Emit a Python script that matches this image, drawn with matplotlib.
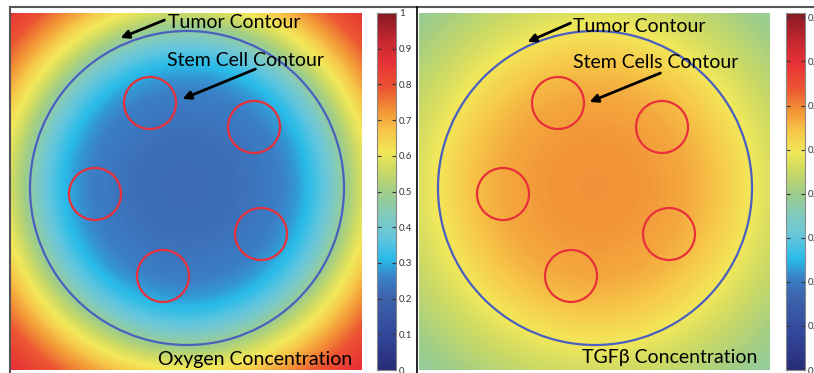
import numpy as np
import matplotlib
matplotlib.use("Agg")
import matplotlib.pyplot as plt
from matplotlib.colors import LinearSegmentedColormap
from matplotlib.lines import Line2D

# simulation domain (um), stem cells and tumor boundary
domain_w, domain_h = 351, 357
field_center = (175, 173)
tumor_center = (176, 175)
tumor_radius = 157
stem_x = [139, 243, 84, 250, 152]
stem_y = [90, 114, 181, 221, 263]
stem_radius = 26

# radial concentration profiles (distance from centre in um)
profile_r = [0, 50, 90, 110, 125, 140, 158, 175, 200, 225, 250]
oxygen_vals = [0.22, 0.225, 0.25, 0.28, 0.32, 0.38, 0.48, 0.57, 0.69, 0.79, 0.86]
tgfb_vals = [0.59, 0.585, 0.57, 0.555, 0.54, 0.52, 0.495, 0.47, 0.44, 0.41, 0.385]

oxy_ticks = [0, 0.1, 0.2, 0.3, 0.4, 0.5, 0.6, 0.7, 0.8, 0.9, 1]
tgf_ticks = [0, 0.1, 0.2, 0.3, 0.4, 0.5, 0.6, 0.7, 0.8]

cmap = LinearSegmentedColormap.from_list("sim", [
    (0.00, (40/255, 45/255, 120/255)),
    (0.10, (50/255, 72/255, 155/255)),
    (0.20, (62/255, 98/255, 172/255)),
    (0.26, (58/255, 130/255, 200/255)),
    (0.31, (40/255, 188/255, 232/255)),
    (0.37, (100/255, 198/255, 222/255)),
    (0.43, (128/255, 202/255, 192/255)),
    (0.50, (160/255, 206/255, 135/255)),
    (0.56, (205/255, 218/255, 100/255)),
    (0.61, (242/255, 232/255, 90/255)),
    (0.67, (247/255, 198/255, 72/255)),
    (0.73, (242/255, 145/255, 55/255)),
    (0.79, (236/255, 85/255, 50/255)),
    (0.86, (232/255, 50/255, 55/255)),
    (0.92, (200/255, 40/255, 50/255)),
    (1.00, (135/255, 25/255, 35/255)),
])

W, H = 814, 373
fig = plt.figure(figsize=(W / 100, H / 100), dpi=100)
plt.rcParams["font.family"] = ["Lato", "DejaVu Sans"]


def px(x, y, w, h):
    return [x / W, 1 - (y + h) / H, w / W, h / H]


xs = np.arange(domain_w) + 0.5
ys = np.arange(domain_h) + 0.5
gx, gy = np.meshgrid(xs, ys)
dist = np.hypot(gx - field_center[0], gy - field_center[1])


def panel(x0, cb_x, vals, vmax, ticks, texts, title):
    ax = fig.add_axes(px(x0, 13, domain_w, domain_h))
    field = np.interp(dist, profile_r, vals)
    ax.imshow(field, cmap=cmap, vmin=0, vmax=vmax, extent=(0, domain_w, domain_h, 0),
              interpolation="bilinear", aspect="auto")
    ax.add_patch(plt.Circle(tumor_center, tumor_radius, fill=False, color="#4a5fc0", lw=1.6))
    for sx, sy in zip(stem_x, stem_y):
        ax.add_patch(plt.Circle((sx, sy), stem_radius, fill=False, color="#e8303a", lw=1.6))
    ax.set_xlim(0, domain_w)
    ax.set_ylim(domain_h, 0)
    ax.axis("off")
    for label, tx, ty, tail, head in texts:
        ax.text(tx, ty, label, fontsize=14, va="center", ha="left", color="black")
        ax.annotate("", xy=head, xytext=tail,
                    arrowprops=dict(arrowstyle="-|>", color="black", lw=2, mutation_scale=12))
    ax.text(title[1], title[2], title[0], fontsize=14, va="center", ha="right", color="black")

    cax = fig.add_axes(px(cb_x, 13, 19, domain_h))
    grad = np.linspace(0, vmax, 256).reshape(-1, 1)
    cax.imshow(grad, cmap=cmap, vmin=0, vmax=vmax, origin="lower", aspect="auto",
               extent=(0, 1, 0, vmax))
    cax.set_xticks([])
    cax.yaxis.tick_right()
    cax.set_yticks(ticks)
    cax.set_yticklabels([f"{t:g}" for t in ticks])
    cax.tick_params(axis="y", direction="in", left=True, right=True, length=3,
                    labelsize=7, labelcolor="#333333", color="#333333", pad=2)
    for s in cax.spines.values():
        s.set_color("#888888")
        s.set_linewidth(0.8)


panel(11, 377, oxygen_vals, 1.0, oxy_ticks,
      [("Tumor Contour", 157, 9, (156, 6), (107, 26)),
       ("Stem Cell Contour", 156, 48, (247, 55), (169, 87))],
      ("Oxygen Concentration", 341, 346))
panel(419, 786, tgfb_vals, 0.81, tgf_ticks,
      [("Tumor Contour", 154, 14, (154, 9), (106, 30)),
       ("Stem Cells Contour", 154, 50, (244, 59), (168, 90))],
      ("TGFβ Concentration", 338, 345))

# screenshot frame lines
fig.add_artist(Line2D([10 / W, 1], [1 - 7 / H, 1 - 7 / H], color="#555555", lw=1.5))
fig.add_artist(Line2D([10 / W, 10 / W], [0, 1 - 7 / H], color="#555555", lw=1.5))
fig.add_artist(Line2D([417 / W, 417 / W], [0, 1 - 7 / H], color="black", lw=1.2))

fig.savefig("out.png", dpi=100)
